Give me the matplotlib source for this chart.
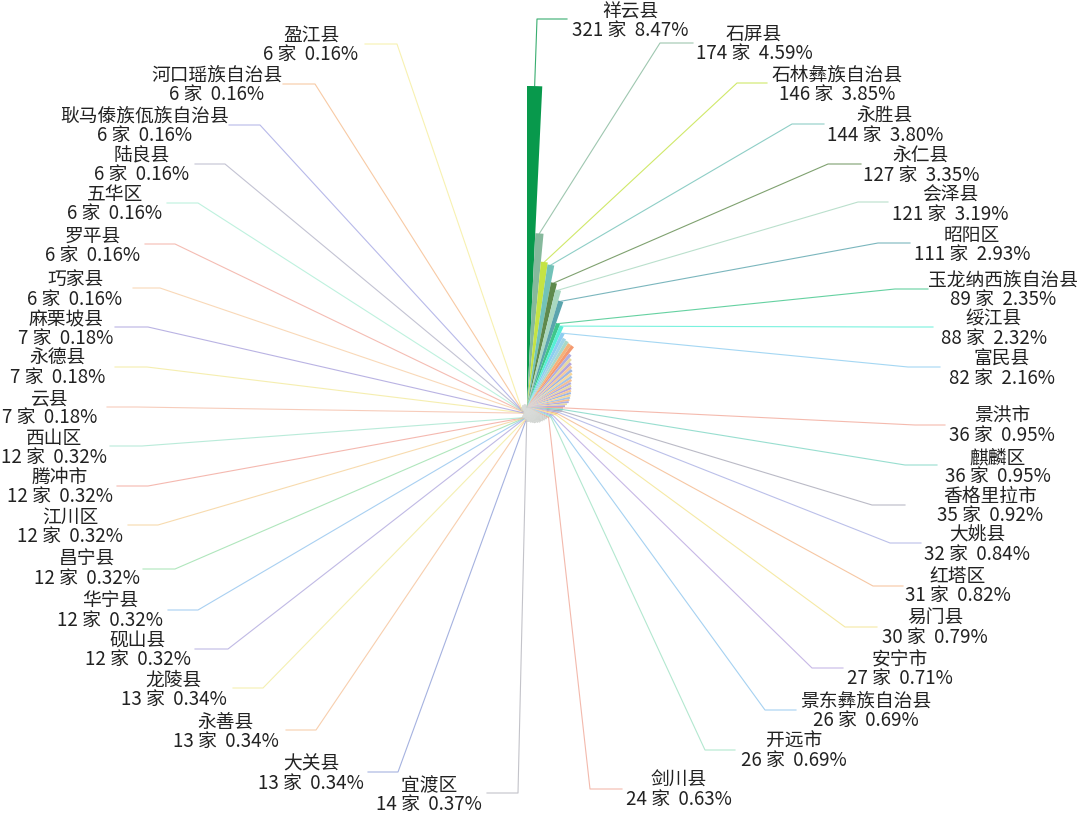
import numpy as np
import matplotlib
matplotlib.use("Agg")
import matplotlib.pyplot as plt

plt.rcParams['font.family'] = ['Noto Sans CJK SC', 'DejaVu Sans']

# every county in the rose, biggest first (only some of them have a label)
all_counts = [321, 174, 146, 144, 127, 121, 111, 89, 88, 82,
              78, 77, 76, 76, 68, 65, 62, 60, 58, 56, 54, 52, 50, 49, 48, 47, 46, 45, 44, 43, 42, 40, 38,
              36, 36, 35, 32, 31, 30, 27, 26, 26, 24,
              23, 23, 22, 22, 21, 21, 20, 20, 20, 19, 19, 18, 18, 18, 17, 17, 16, 16, 16, 15, 15, 15, 15,
              14, 13, 13, 13, 12, 12, 12, 12, 12, 12, 7, 7, 7, 6, 6, 6, 6, 6, 6, 6,
              6, 6, 6, 6, 6, 6, 6, 6, 6, 6, 6, 6,
              5, 5, 5, 5, 5, 5, 5, 5, 5, 5,
              4, 4, 4, 4, 4, 4, 4, 4, 4, 4,
              3, 3, 3, 3, 3, 3, 3, 3,
              2, 2, 2, 2, 2, 2]

top_colors = ['#08994c', '#86b99c', '#c4e344', '#72c2b8', '#5f8a4c', '#a9d8c0', '#5aa4ad', '#3fc68a',
              '#58efd6', '#8ecdf0', '#9fd4e8', '#a8d8c8', '#f5b27a', '#f59a70']
cycle_colors = ['#b5a6dc', '#f6c99a', '#9fb6e2', '#f7d79a', '#a6c4e6', '#f4bf92', '#b0aee0', '#e8d9a0']
label_colors = {33: '#f2a99a', 34: '#7fd6c4', 35: '#a9a9b8', 36: '#aab0e4', 37: '#f4b98c', 38: '#f3e48e',
                39: '#b9a6e0', 40: '#8fc6ee', 41: '#a0e2c4', 42: '#f0a898',
                66: '#b4b4bc', 67: '#8f9fd8', 68: '#f6c39a', 69: '#f2ec9e', 70: '#b0a8de', 71: '#93c4ee',
                72: '#9ce0ac', 73: '#f6d29a', 74: '#f2a79c', 75: '#a8e6d0', 76: '#f5c0aa', 77: '#f3ea9c',
                78: '#a8a0dc', 79: '#f8cfa6', 80: '#f2aca0', 81: '#aeeed6', 82: '#b4b4c8', 83: '#a6a8e4',
                84: '#f6bd8e', 85: '#f6ee9e'}
blob_color = '#c9cdc9'

names = ['祥云县', '石屏县', '石林彝族自治县', '永胜县', '永仁县', '会泽县', '昭阳区', '玉龙纳西族自治县', '绥江县', '富民县',
         '景洪市', '麒麟区', '香格里拉市', '大姚县', '红塔区', '易门县', '安宁市', '景东彝族自治县', '开远市', '剑川县',
         '宜渡区', '大关县', '永善县', '龙陵县', '砚山县', '华宁县', '昌宁县', '江川区', '腾冲市', '西山区',
         '云县', '永德县', '麻栗坡县', '巧家县', '罗平县', '五华区', '陆良县', '耿马傣族佤族自治县', '河口瑶族自治县', '盈江县']
counts = [321, 174, 146, 144, 127, 121, 111, 89, 88, 82,
          36, 36, 35, 32, 31, 30, 27, 26, 26, 24,
          14, 13, 13, 13, 12, 12, 12, 12, 12, 12,
          7, 7, 7, 6, 6, 6, 6, 6, 6, 6]
shares = ['8.47', '4.59', '3.85', '3.80', '3.35', '3.19', '2.93', '2.35', '2.32', '2.16',
          '0.95', '0.95', '0.92', '0.84', '0.82', '0.79', '0.71', '0.69', '0.69', '0.63',
          '0.37', '0.34', '0.34', '0.34', '0.32', '0.32', '0.32', '0.32', '0.32', '0.32',
          '0.18', '0.18', '0.18', '0.16', '0.16', '0.16', '0.16', '0.16', '0.16', '0.16']
wedge_index = list(range(10)) + list(range(33, 43)) + list(range(66, 86))

# label layout in pixels: text centre x, name y, knee x, end x, line y
layout = [(630, 10, 537, 567, 19), (754, 33, 660, 693, 43), (837, 74, 737, 767, 83), (885, 115, 792, 824, 124),
          (921, 155, 828, 861, 164), (950, 194, 858, 888, 202), (972, 234, 878, 910, 243), (1003, 279, 895, 928, 289),
          (994, 318, 900, 933, 327), (1002, 358, 908, 940, 367),
          (1002, 415, 915, 945, 425), (998, 456, 905, 937, 465), (990, 495, 872, 905, 505), (977, 534, 890, 921, 543),
          (958, 575, 873, 903, 586), (935, 617, 845, 877, 627), (900, 658, 812, 843, 668), (866, 700, 765, 796, 710),
          (794, 740, 705, 735, 750), (679, 779, 590, 622, 789),
          (429, 784, 518, 487, 793), (311, 763, 398, 368, 772), (226, 721, 316, 286, 730), (174, 679, 263, 233, 688),
          (138, 639, 228, 195, 649), (110, 600, 198, 168, 610), (87, 558, 175, 143, 569), (70, 516, 158, 128, 525),
          (60, 476, 148, 117, 486), (54, 437, 142, 110, 446), (50, 397, 137, 107, 407), (58, 357, 147, 115, 367),
          (66, 318, 148, 115, 327), (75, 279, 160, 133, 288), (93, 235, 175, 145, 244), (115, 193, 198, 167, 203),
          (142, 154, 225, 195, 164), (145, 115, 260, 229, 125), (217, 74, 315, 283, 84), (311, 34, 397, 365, 44)]


def line_color(i):
    if i < len(top_colors):
        return top_colors[i]
    if i in label_colors:
        return label_colors[i]
    return cycle_colors[i % len(cycle_colors)]


def fill_color(i):
    # the small wedges melt together into a grey blob round the centre
    if i >= 43:
        return blob_color
    return line_color(i)


def main():
    fig = plt.figure(figsize=(10.8, 8.14), dpi=100, facecolor='white')

    # rose axes: centre at pixel (527, 407), one count is one pixel
    rmax = 330
    cx = 527
    cy = 407
    ax = fig.add_axes([(cx - rmax) / 1080, (814 - cy - rmax) / 814, 2 * rmax / 1080, 2 * rmax / 814],
                      projection='polar')
    ax.set_theta_zero_location('N')
    ax.set_theta_direction(-1)
    ax.set_ylim(0, rmax)
    ax.axis('off')
    ax.set_zorder(2)

    n = len(all_counts)
    width = 2 * np.pi / n
    theta = np.arange(n) * width
    ax.bar(theta, all_counts, width=width, bottom=0, align='edge',
           color=[fill_color(i) for i in range(n)], linewidth=0, zorder=3)

    # overlay in pixel coordinates for the leader lines and the texts
    over = fig.add_axes([0, 0, 1, 1], facecolor='none')
    over.set_xlim(0, 1080)
    over.set_ylim(814, 0)
    over.axis('off')
    over.set_zorder(1)

    for i, name in enumerate(names):
        idx = wedge_index[i]
        tx, ty, knee_x, end_x, line_y = layout[i]
        angle = theta[idx] + width / 2
        start = ax.transData.transform((angle, all_counts[idx]))
        sx, sy = over.transData.inverted().transform(start)
        over.plot([sx, knee_x, end_x], [sy, line_y, line_y], color=line_color(idx), lw=0.8, alpha=0.8, zorder=2)
        over.text(tx, ty + 1.5, name, ha='center', va='center', fontsize=13.5, color='#222222')
        over.text(tx, ty + 20.5, f"{counts[i]} 家  {shares[i]}%", ha='center', va='center',
                  fontsize=13.5, color='#222222')

    fig.savefig('out.png', dpi=100)


if __name__ == "__main__":
    main()
